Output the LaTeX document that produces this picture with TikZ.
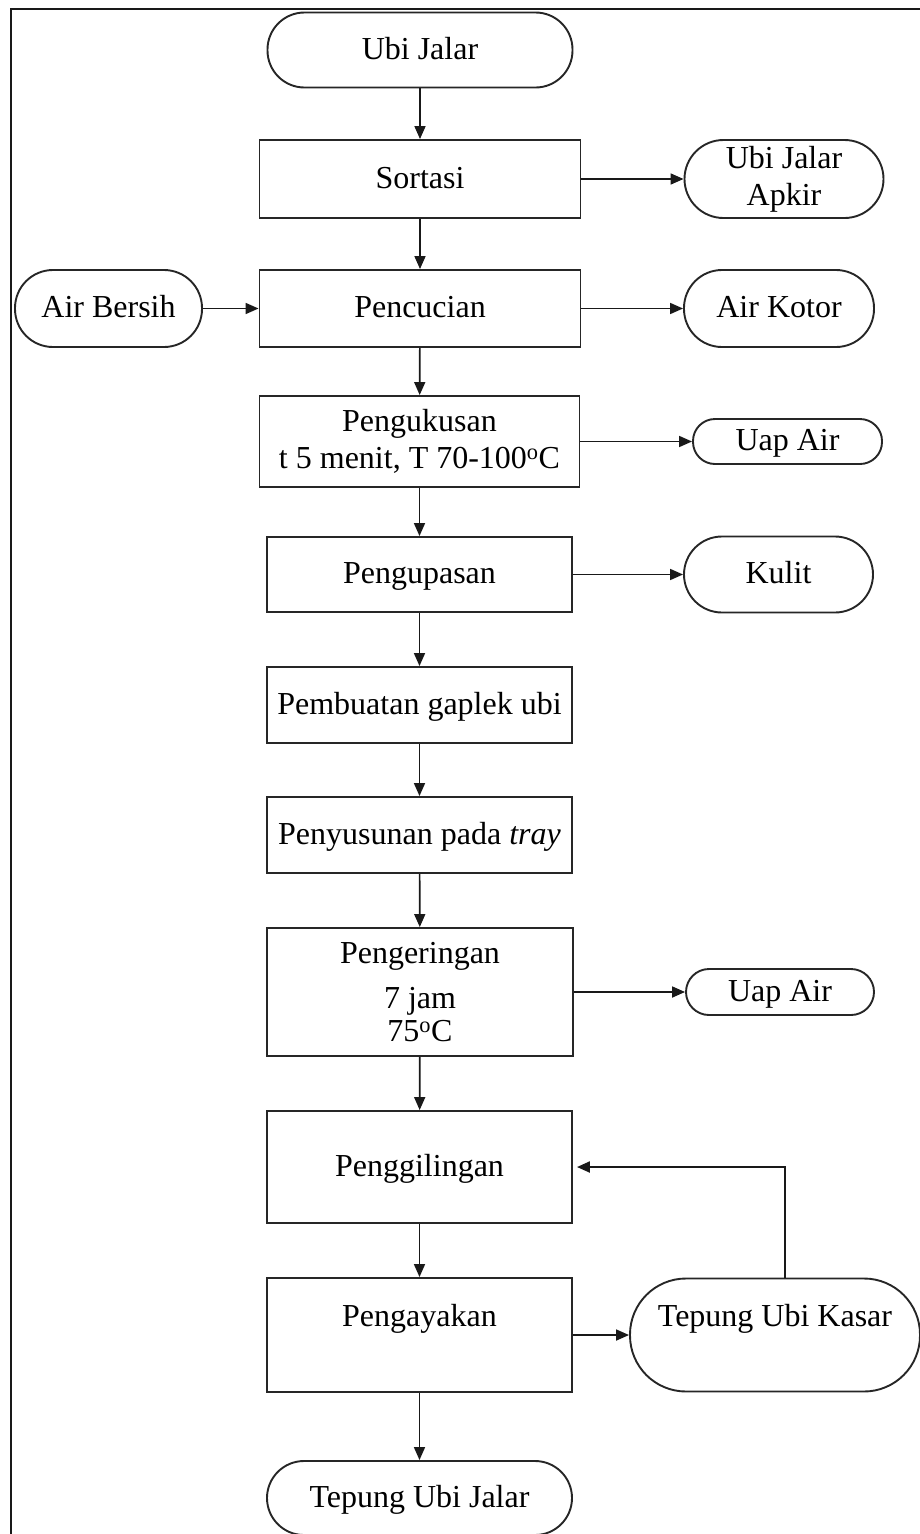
\documentclass[tikz,border=0pt]{standalone}
\usepackage{fontspec}
\setmainfont{Liberation Serif}
\usetikzlibrary{arrows.meta}
\begin{document}
\begin{tikzpicture}[x=1pt,y=-1pt,
  font=\fontsize{32}{37}\selectfont,
  box/.style={draw=black!85, line width=1.9pt, rectangle, inner sep=0pt, align=center},
  term/.style={box, rounded corners=#1},
  term/.default=37pt,
  one/.style={text height=24pt, text depth=6pt},
  lowtext/.style={text height=24pt, text depth=42pt},
  arr/.style={draw=black!90, line width=1.7pt, -{Triangle[length=13pt,width=11pt]}},
  frame/.style={draw=black!90, line width=2pt}]
\useasboundingbox (0,0) rectangle (920,1534);
\clip (0,0) rectangle (920,1534);
\draw[frame] (11,1540) -- (11,9) -- (930,9);

\node[term, one, minimum width=305pt, minimum height=75pt] (start) at (420,50) {Ubi Jalar};
\node[box, one, minimum width=321pt, minimum height=78pt] (sortasi) at (420,179) {Sortasi};
\node[term=39pt, minimum width=199pt, minimum height=78pt] (apkir) at (784,179) {Ubi Jalar\\Apkir};
\node[box, one, minimum width=321pt, minimum height=77pt] (pencucian) at (420,308.5) {Pencucian};
\node[term=38pt, one, minimum width=187pt, minimum height=77pt] (bersih) at (108.5,308.5) {Air Bersih};
\node[term=38pt, one, minimum width=190pt, minimum height=77pt] (kotor) at (779,308.5) {Air Kotor};
\node[box, minimum width=320pt, minimum height=91pt] (kukus) at (419.5,441.5) {Pengukusan\\t 5 menit, T 70-100\textsuperscript{o}C};
\node[term=22pt, one, minimum width=189pt, minimum height=45pt] (uap1) at (787.5,441.5) {Uap Air};
\node[box, one, minimum width=305pt, minimum height=75pt] (kupas) at (419.5,574.5) {Pengupasan};
\node[term=38pt, one, minimum width=189pt, minimum height=76pt] (kulit) at (778.5,574.5) {Kulit};
\node[box, one, minimum width=305pt, minimum height=76pt] (gaplek) at (419.5,705) {Pembuatan gaplek ubi};
\node[box, one, minimum width=305pt, minimum height=76pt] (susun) at (419.5,835) {Penyusunan pada \textit{tray}};
\node[box, minimum width=306pt, minimum height=128pt] (kering) at (420,992) {Pengeringan\\[8pt]7 jam\\[-4pt]75\textsuperscript{o}C};
\node[term=23pt, one, minimum width=188pt, minimum height=46pt] (uap2) at (780,992) {Uap Air};
\node[box, one, minimum width=305pt, minimum height=112pt] (giling) at (419.5,1167) {Penggilingan};
\node[box, lowtext, minimum width=305pt, minimum height=114pt] (ayak) at (419.5,1335) {Pengayakan};
\node[term=56pt, lowtext, minimum width=290pt, minimum height=113pt] (kasar) at (775,1335) {Tepung Ubi Kasar};
\node[term, one, minimum width=305pt, minimum height=74pt] (tuj) at (419.5,1498) {Tepung Ubi Jalar};

\draw[arr] (start) -- (sortasi);
\draw[arr] (sortasi) -- (pencucian);
\draw[arr] (sortasi) -- (apkir);
\draw[arr] (bersih) -- (pencucian);
\draw[arr] (pencucian) -- (kotor);
\draw[arr] (pencucian) -- (kukus);
\draw[arr] (kukus) -- (uap1);
\draw[arr] (kukus) -- (kupas);
\draw[arr] (kupas) -- (kulit);
\draw[arr] (kupas) -- (gaplek);
\draw[arr] (gaplek) -- (susun);
\draw[arr] (susun) -- (kering);
\draw[arr] (kering) -- (uap2);
\draw[arr] (kering) -- (giling);
\draw[arr] (giling) -- (ayak);
\draw[arr] (ayak) -- (tuj);
\draw[arr] (ayak.east) -- (kasar.west);
\draw[arr, line width=2.2pt] ([xshift=10pt]kasar.north) |- ([xshift=4pt]giling.east);
\end{tikzpicture}
\end{document}
